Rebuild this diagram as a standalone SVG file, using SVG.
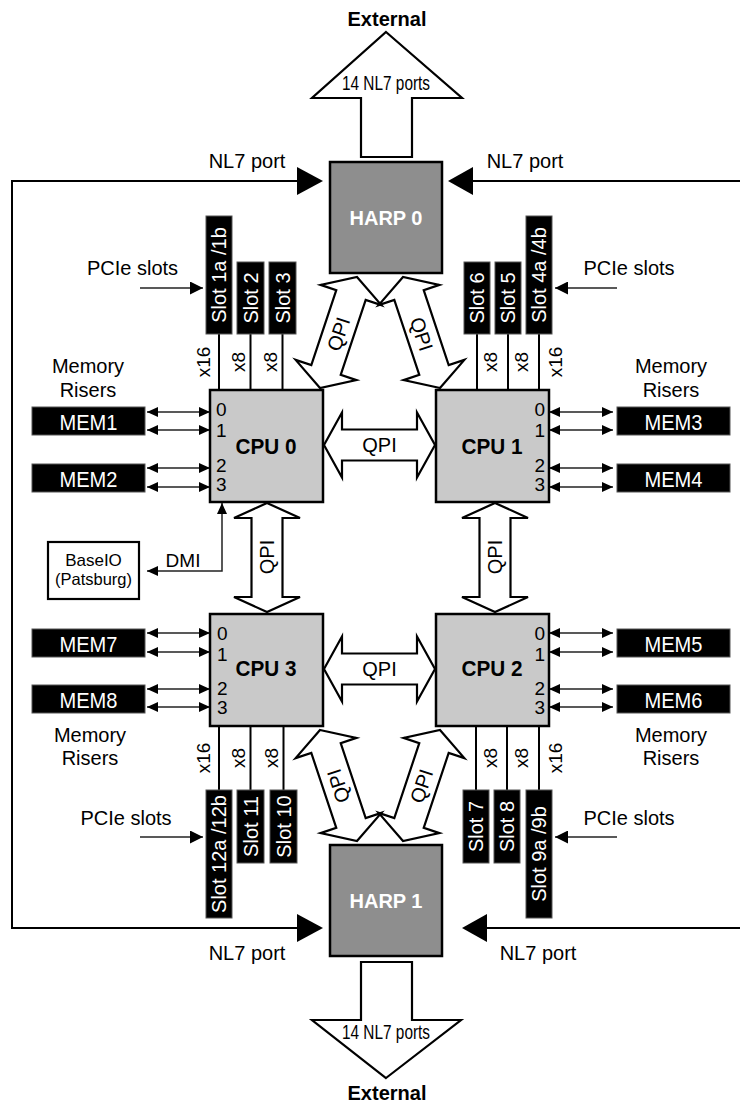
<svg xmlns="http://www.w3.org/2000/svg" width="740" height="1104" viewBox="0 0 740 1104">
<defs>
<style>
text{font-family:"Liberation Sans",Arial,sans-serif;fill:#000}
.lbl{font-size:20px;text-anchor:middle}
.b{font-weight:bold}
.w{fill:#fff}
.harp{fill:#8e8e8e;stroke:#000;stroke-width:2.5}
.cpu{fill:#c9c9c9;stroke:#000;stroke-width:2.5}
.blk{fill:#000;stroke:#555;stroke-width:1}
.fat{fill:#fff;stroke:#000;stroke-width:2.2;stroke-linejoin:miter}
.ln{fill:none;stroke:#000;stroke-width:2}
.thin{fill:none;stroke:#222;stroke-width:1.5}
.head{fill:#000;stroke:none}
.dig{font-size:19px}
.sl{font-size:20px;text-anchor:middle;fill:#fff}
.xl{font-size:19px;text-anchor:middle}
</style>
<marker id="ah" markerUnits="userSpaceOnUse" markerWidth="11" markerHeight="10" refX="11" refY="5" orient="auto-start-reverse"><path d="M0,0 L11,5 L0,10 Z" fill="#000"/></marker>
<marker id="ap" markerUnits="userSpaceOnUse" markerWidth="13" markerHeight="13" refX="13" refY="6.5" orient="auto"><path d="M0,0 L13,6.5 L0,13 Z" fill="#000"/></marker>
<path id="diag" d="M-58.5,0 L-39.5,-32 L-39.5,-15.5 L39.5,-15.5 L39.5,-32 L58.5,0 L39.5,32 L39.5,15.5 L-39.5,15.5 L-39.5,32 Z"/>
</defs>

<!-- connectors -->
<g id="connectors">
  <!-- external arrows -->
  <polygon class="fat" points="386,32 462,98 412,98 412,157 361,157 361,98 312,98"/>
  <polygon class="fat" points="386,1078 461,1020 412,1020 412,962 361,962 361,1020 312,1020"/>
  <!-- NL7 port lines -->
  <path class="ln" d="M300,181 H12 V928 H300"/>
  <polygon class="head" points="297,167 323,181 297,195"/>
  <polygon class="head" points="297,914 323,928 297,942"/>
  <path class="ln" d="M740,181 H470"/>
  <polygon class="head" points="473,167 448,181 473,195"/>
  <path class="ln" d="M740,928 H484"/>
  <polygon class="head" points="487,914 462,928 487,942"/>
  <!-- QPI fat arrows -->
  <path class="fat" d="M324,445 L342,412.5 L342,429.5 L417,429.5 L417,412.5 L435,445 L417,477.5 L417,460.5 L342,460.5 L342,477.5 Z"/>
  <path class="fat" d="M324,669 L342,636.5 L342,653.5 L417,653.5 L417,636.5 L435,669 L417,701.5 L417,684.5 L342,684.5 L342,701.5 Z"/>
  <path class="fat" d="M267,503 L300,518 L282.5,518 L282.5,597 L300,597 L267,612 L234,597 L251.5,597 L251.5,518 L234,518 Z"/>
  <path class="fat" d="M495,503 L528,518 L510.5,518 L510.5,597 L528,597 L495,612 L462,597 L479.5,597 L479.5,518 L462,518 Z"/>
  <use href="#diag" class="fat" transform="translate(338.5,332.5) rotate(-71.57)"/>
  <use href="#diag" class="fat" transform="translate(421.5,332.5) rotate(-108.43)"/>
  <use href="#diag" class="fat" transform="translate(338.5,785.5) rotate(71.57)"/>
  <use href="#diag" class="fat" transform="translate(421.5,785.5) rotate(108.43)"/>
  <text class="lbl" x="379.5" y="452">QPI</text>
  <text class="lbl" x="379.5" y="676">QPI</text>
  <text class="lbl" transform="translate(267,557) rotate(-90)" dy="0.35em">QPI</text>
  <text class="lbl" transform="translate(495,557) rotate(-90)" dy="0.35em">QPI</text>
  <text class="lbl" transform="translate(338.5,334) rotate(-71.57)" dy="0.35em">QPI</text>
  <text class="lbl" transform="translate(421.5,334) rotate(71.57)" dy="0.35em">QPI</text>
  <text class="lbl" transform="translate(338.5,786) rotate(-108.43)" dy="0.35em">QPI</text>
  <text class="lbl" transform="translate(421.5,786) rotate(-71.57)" dy="0.35em">QPI</text>
  <!-- memory links -->
  <g class="thin" marker-start="url(#ah)" marker-end="url(#ah)">
    <line x1="147" y1="412" x2="210" y2="412"/>
    <line x1="147" y1="430" x2="210" y2="430"/>
    <line x1="147" y1="468" x2="210" y2="468"/>
    <line x1="147" y1="487" x2="210" y2="487"/>
    <line x1="147" y1="633" x2="210" y2="633"/>
    <line x1="147" y1="652" x2="210" y2="652"/>
    <line x1="147" y1="689" x2="210" y2="689"/>
    <line x1="147" y1="707" x2="210" y2="707"/>
    <line x1="549" y1="412" x2="613" y2="412"/>
    <line x1="549" y1="430" x2="613" y2="430"/>
    <line x1="549" y1="468" x2="613" y2="468"/>
    <line x1="549" y1="487" x2="613" y2="487"/>
    <line x1="549" y1="633" x2="613" y2="633"/>
    <line x1="549" y1="652" x2="613" y2="652"/>
    <line x1="549" y1="689" x2="613" y2="689"/>
    <line x1="549" y1="707" x2="613" y2="707"/>
  </g>
  <!-- DMI -->
  <path class="thin" d="M222,503 V571 H147" marker-start="url(#ah)" marker-end="url(#ah)"/>
  <text class="lbl" x="183" y="567" style="font-size:19px">DMI</text>
  <!-- PCIe slot pointers -->
  <g class="thin" marker-end="url(#ap)">
    <line x1="140" y1="288" x2="203" y2="288"/>
    <line x1="617" y1="288" x2="555" y2="288"/>
    <line x1="140" y1="837" x2="203" y2="837"/>
    <line x1="617" y1="837" x2="555" y2="837"/>
  </g>
  <!-- slot links -->
  <g class="ln">
    <line x1="219" y1="334" x2="219" y2="390"/>
    <line x1="250.5" y1="334" x2="250.5" y2="390"/>
    <line x1="282.5" y1="334" x2="282.5" y2="390"/>
    <line x1="477" y1="334" x2="477" y2="390"/>
    <line x1="508" y1="334" x2="508" y2="390"/>
    <line x1="539" y1="334" x2="539" y2="390"/>
    <line x1="219" y1="726" x2="219" y2="790"/>
    <line x1="250.5" y1="726" x2="250.5" y2="790"/>
    <line x1="283.5" y1="726" x2="283.5" y2="790"/>
    <line x1="476" y1="726" x2="476" y2="790"/>
    <line x1="507" y1="726" x2="507" y2="790"/>
    <line x1="539" y1="726" x2="539" y2="790"/>
  </g>
  <text class="xl" transform="translate(203,362) rotate(-90)" dy="0.35em">x16</text>
  <text class="xl" transform="translate(238,362) rotate(-90)" dy="0.35em">x8</text>
  <text class="xl" transform="translate(270,362) rotate(-90)" dy="0.35em">x8</text>
  <text class="xl" transform="translate(490,362) rotate(-90)" dy="0.35em">x8</text>
  <text class="xl" transform="translate(521,362) rotate(-90)" dy="0.35em">x8</text>
  <text class="xl" transform="translate(555,362) rotate(-90)" dy="0.35em">x16</text>
  <text class="xl" transform="translate(203,758) rotate(-90)" dy="0.35em">x16</text>
  <text class="xl" transform="translate(238,758) rotate(-90)" dy="0.35em">x8</text>
  <text class="xl" transform="translate(271,758) rotate(-90)" dy="0.35em">x8</text>
  <text class="xl" transform="translate(490,758) rotate(-90)" dy="0.35em">x8</text>
  <text class="xl" transform="translate(521,758) rotate(-90)" dy="0.35em">x8</text>
  <text class="xl" transform="translate(555,758) rotate(-90)" dy="0.35em">x16</text>
</g>

<!-- free labels -->
<g id="labels">
  <text class="lbl b" x="387" y="26">External</text>
  <text class="lbl" x="386" y="90" textLength="88" lengthAdjust="spacingAndGlyphs">14 NL7 ports</text>
  <text class="lbl b" x="387" y="1100">External</text>
  <text class="lbl" x="386" y="1039" textLength="88" lengthAdjust="spacingAndGlyphs">14 NL7 ports</text>
  <text class="lbl" x="247" y="168">NL7 port</text>
  <text class="lbl" x="525" y="168">NL7 port</text>
  <text class="lbl" x="247" y="960">NL7 port</text>
  <text class="lbl" x="538" y="960">NL7 port</text>
  <text class="lbl" x="132.5" y="275">PCIe slots</text>
  <text class="lbl" x="629" y="275">PCIe slots</text>
  <text class="lbl" x="126" y="825">PCIe slots</text>
  <text class="lbl" x="629" y="825">PCIe slots</text>
  <text class="lbl" x="88" y="373">Memory</text>
  <text class="lbl" x="88" y="397">Risers</text>
  <text class="lbl" x="671" y="373">Memory</text>
  <text class="lbl" x="671" y="397">Risers</text>
  <text class="lbl" x="90" y="742">Memory</text>
  <text class="lbl" x="90" y="765">Risers</text>
  <text class="lbl" x="671" y="742">Memory</text>
  <text class="lbl" x="671" y="765">Risers</text>
</g>

<g id="harp0"><rect class="harp" x="330" y="162" width="112" height="111"/><text class="lbl b w" x="386" y="225">HARP 0</text></g>
<g id="harp1"><rect class="harp" x="330" y="845" width="112" height="111"/><text class="lbl b w" x="386" y="908">HARP 1</text></g>

<g id="cpu0"><rect class="cpu" x="210" y="390" width="113" height="112"/><text class="lbl b" x="266" y="454" style="font-size:22px" textLength="61" lengthAdjust="spacingAndGlyphs">CPU 0</text>
  <text class="dig" x="216" y="416">0</text><text class="dig" x="216" y="437">1</text><text class="dig" x="216" y="472">2</text><text class="dig" x="216" y="491">3</text></g>
<g id="cpu1"><rect class="cpu" x="436" y="390" width="113" height="112"/><text class="lbl b" x="492" y="454" style="font-size:22px" textLength="61" lengthAdjust="spacingAndGlyphs">CPU 1</text>
  <text class="dig" x="545" y="416" text-anchor="end">0</text><text class="dig" x="545" y="437" text-anchor="end">1</text><text class="dig" x="545" y="472" text-anchor="end">2</text><text class="dig" x="545" y="491" text-anchor="end">3</text></g>
<g id="cpu3"><rect class="cpu" x="210" y="614" width="113" height="112"/><text class="lbl b" x="266" y="676" style="font-size:22px" textLength="61" lengthAdjust="spacingAndGlyphs">CPU 3</text>
  <text class="dig" x="217" y="640">0</text><text class="dig" x="217" y="661">1</text><text class="dig" x="217" y="695">2</text><text class="dig" x="217" y="714">3</text></g>
<g id="cpu2"><rect class="cpu" x="436" y="614" width="113" height="112"/><text class="lbl b" x="492" y="676" style="font-size:22px" textLength="61" lengthAdjust="spacingAndGlyphs">CPU 2</text>
  <text class="dig" x="545" y="640" text-anchor="end">0</text><text class="dig" x="545" y="661" text-anchor="end">1</text><text class="dig" x="545" y="695" text-anchor="end">2</text><text class="dig" x="545" y="714" text-anchor="end">3</text></g>

<g id="mem1"><rect class="blk" x="32" y="407" width="113" height="28"/><text class="lbl w" x="88.5" y="430" style="font-size:22px" textLength="58" lengthAdjust="spacingAndGlyphs">MEM1</text></g>
<g id="mem2"><rect class="blk" x="32" y="464" width="113" height="28"/><text class="lbl w" x="88.5" y="487" style="font-size:22px" textLength="58" lengthAdjust="spacingAndGlyphs">MEM2</text></g>
<g id="mem3"><rect class="blk" x="617" y="407" width="113" height="28"/><text class="lbl w" x="673.5" y="430" style="font-size:22px" textLength="58" lengthAdjust="spacingAndGlyphs">MEM3</text></g>
<g id="mem4"><rect class="blk" x="617" y="464" width="113" height="28"/><text class="lbl w" x="673.5" y="487" style="font-size:22px" textLength="58" lengthAdjust="spacingAndGlyphs">MEM4</text></g>
<g id="mem7"><rect class="blk" x="32" y="629" width="113" height="28"/><text class="lbl w" x="88.5" y="652" style="font-size:22px" textLength="58" lengthAdjust="spacingAndGlyphs">MEM7</text></g>
<g id="mem8"><rect class="blk" x="32" y="685" width="113" height="28"/><text class="lbl w" x="88.5" y="708" style="font-size:22px" textLength="58" lengthAdjust="spacingAndGlyphs">MEM8</text></g>
<g id="mem5"><rect class="blk" x="617" y="629" width="113" height="28"/><text class="lbl w" x="673.5" y="652" style="font-size:22px" textLength="58" lengthAdjust="spacingAndGlyphs">MEM5</text></g>
<g id="mem6"><rect class="blk" x="617" y="685" width="113" height="28"/><text class="lbl w" x="673.5" y="708" style="font-size:22px" textLength="58" lengthAdjust="spacingAndGlyphs">MEM6</text></g>

<g id="slot1"><rect class="blk" x="206" y="216" width="26" height="118"/><text class="sl" transform="translate(219,275) rotate(-90)" dy="0.35em">Slot 1a /1b</text></g>
<g id="slot2"><rect class="blk" x="237" y="262" width="27" height="72"/><text class="sl" transform="translate(250.5,298) rotate(-90)" dy="0.35em">Slot 2</text></g>
<g id="slot3"><rect class="blk" x="269" y="262" width="27" height="72"/><text class="sl" transform="translate(282.5,298) rotate(-90)" dy="0.35em">Slot 3</text></g>
<g id="slot6"><rect class="blk" x="464" y="262" width="26" height="72"/><text class="sl" transform="translate(477,298) rotate(-90)" dy="0.35em">Slot 6</text></g>
<g id="slot5"><rect class="blk" x="495" y="262" width="26" height="72"/><text class="sl" transform="translate(508,298) rotate(-90)" dy="0.35em">Slot 5</text></g>
<g id="slot4"><rect class="blk" x="526" y="216" width="26" height="118"/><text class="sl" transform="translate(539,275) rotate(-90)" dy="0.35em">Slot 4a /4b</text></g>
<g id="slot12"><rect class="blk" x="206" y="790" width="26" height="128"/><text class="sl" transform="translate(219,854) rotate(-90)" dy="0.35em">Slot 12a /12b</text></g>
<g id="slot11"><rect class="blk" x="237" y="790" width="27" height="73"/><text class="sl" transform="translate(250.5,826.5) rotate(-90)" dy="0.35em">Slot 11</text></g>
<g id="slot10"><rect class="blk" x="270" y="790" width="27" height="73"/><text class="sl" transform="translate(283.5,826.5) rotate(-90)" dy="0.35em">Slot 10</text></g>
<g id="slot7"><rect class="blk" x="463" y="790" width="26" height="73"/><text class="sl" transform="translate(476,826.5) rotate(-90)" dy="0.35em">Slot 7</text></g>
<g id="slot8"><rect class="blk" x="494" y="790" width="26" height="73"/><text class="sl" transform="translate(507,826.5) rotate(-90)" dy="0.35em">Slot 8</text></g>
<g id="slot9"><rect class="blk" x="526" y="790" width="26" height="128"/><text class="sl" transform="translate(539,854) rotate(-90)" dy="0.35em">Slot 9a /9b</text></g>

<g id="baseio"><rect x="48" y="542" width="91" height="57" fill="#fff" stroke="#000" stroke-width="2.2"/>
  <text class="lbl" x="93.5" y="566" style="font-size:17px">BaseIO</text>
  <text class="lbl" x="93.5" y="585" style="font-size:16.5px">(Patsburg)</text></g>
</svg>
